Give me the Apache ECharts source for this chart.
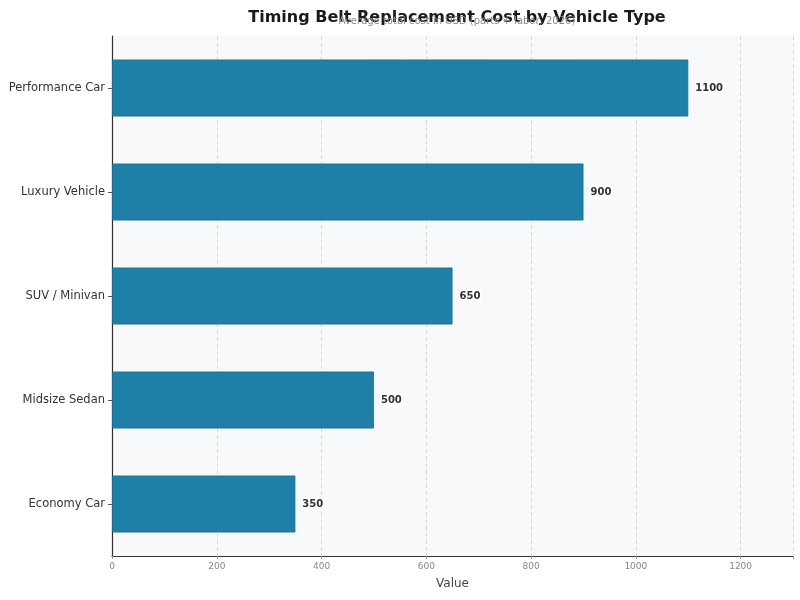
<!DOCTYPE html>
<html><head><meta charset="utf-8">
<script src="https://cdn.jsdelivr.net/npm/echarts@6/dist/echarts.min.js"></script>
<style>html,body{margin:0;padding:0;background:#fff}#c{width:800px;height:600px}</style>
</head><body><div id="c"></div>
<script>
const categories = ["Economy Car", "Midsize Sedan", "SUV / Minivan", "Luxury Vehicle", "Performance Car"];
const costs = [350, 500, 650, 900, 1100];
const xTicks = [0, 200, 400, 600, 800, 1000, 1200];

const chart = echarts.init(document.getElementById('c'));
chart.setOption({
  backgroundColor: '#ffffff',
  animation: false,
  title: {
    text: 'Timing Belt Replacement Cost by Vehicle Type',
    subtext: 'Average total cost in USD (parts + labor, 2026)',
    left: 452, textAlign: 'center', top: 5, itemGap: -10,
    textStyle: { fontFamily: 'DejaVu Sans', fontSize: 16, fontWeight: 'bold', color: '#1a1a1a' },
    subtextStyle: { fontFamily: 'DejaVu Sans', fontSize: 10, color: '#8a8a8a' }
  },
  grid: { left: 112, right: 7, top: 36, bottom: 44, show: true, backgroundColor: '#f7f9fb', borderWidth: 0 },
  xAxis: {
    type: 'value', min: 0, max: 1300, interval: 200,
    name: 'Value', nameLocation: 'middle', nameGap: 22,
    nameTextStyle: { fontFamily: 'DejaVu Sans', fontSize: 12, color: '#444' },
    axisLine: { show: true, lineStyle: { color: '#333', width: 1.2 } },
    axisTick: { show: true, length: 3, lineStyle: { color: '#999' } },
    axisLabel: { fontFamily: 'DejaVu Sans', fontSize: 9, color: '#888', margin: 6,
      formatter: v => xTicks.includes(v) ? String(v) : '' },
    splitLine: { show: true, lineStyle: { type: [4, 3], color: '#d0d0d0', width: 0.8 } }
  },
  yAxis: {
    type: 'category', data: categories,
    axisLine: { show: true, lineStyle: { color: '#333', width: 1.2 } },
    axisTick: { show: true, alignWithLabel: true, length: 4, lineStyle: { color: '#555' } },
    axisLabel: { fontFamily: 'DejaVu Sans', fontSize: 11.5, color: '#333', margin: 7 },
    splitLine: { show: false }
  },
  series: [{
    type: 'bar', data: costs, barWidth: 57,
    itemStyle: { color: '#1f7fa6', borderColor: '#1a6d8f', borderWidth: 0.8 },
    label: { show: true, position: 'right', distance: 6,
      fontFamily: 'DejaVu Sans', fontSize: 10, fontWeight: 'bold', color: '#333',
      backgroundColor: 'rgba(255,255,255,0.7)', padding: [2, 1] }
  }]
});
</script></body></html>
